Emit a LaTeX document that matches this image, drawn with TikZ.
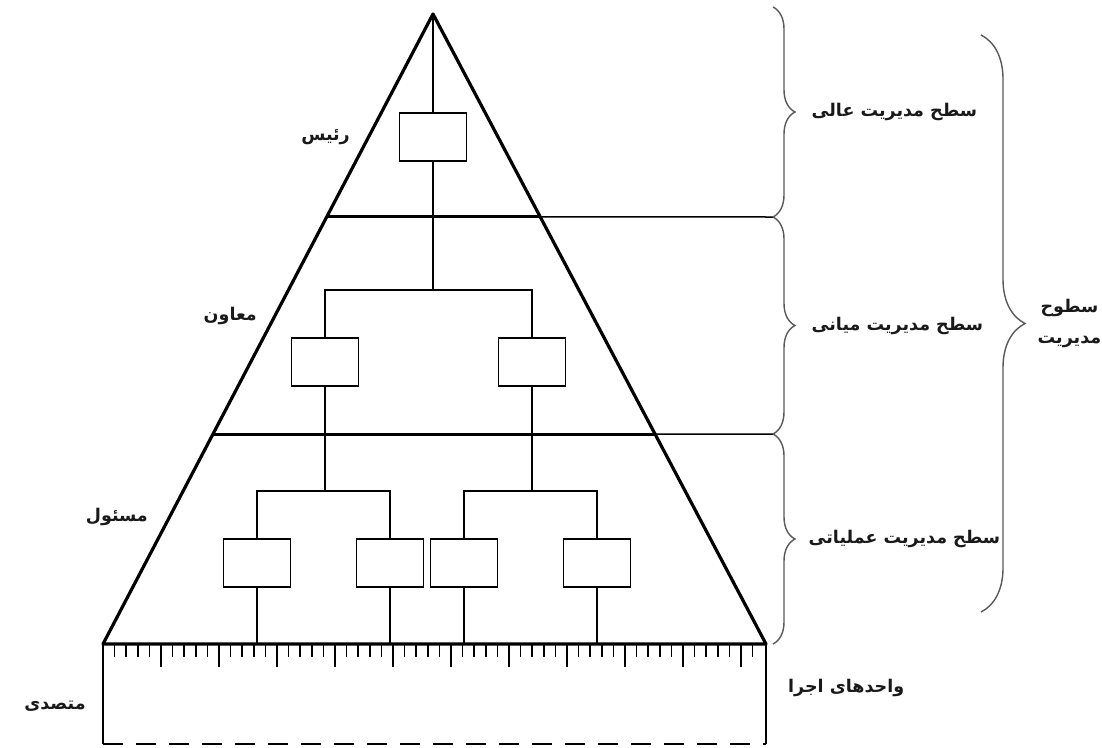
\documentclass[tikz,border=0pt]{standalone}
\usepackage{fontspec}
\newfontfamily\farsi[Script=Arabic]{DejaVu Sans}
\TeXXeTstate=1
\usetikzlibrary{positioning,calc,decorations.pathreplacing}
\newcommand\fa[1]{\beginR #1\endR}
\tikzset{
  zel/.style={line width=3.2pt,line join=round},
  khat/.style={line width=1.5pt},
  kadr/.style={draw,line width=1.7pt,minimum width=67pt,minimum height=48pt,inner sep=0pt},
  tik/.style={line width=1.5pt},
  matn/.style={font=\farsi\bfseries\fontsize{17.5}{21}\selectfont,inner sep=0pt,text=black!90},
  abru/.style={decorate,decoration={brace,amplitude=#1},line width=1.4pt,draw=black!65},
}
\begin{document}
\begin{tikzpicture}[x=1pt,y=-1pt]
  \useasboundingbox (0,0) rectangle (1102,747);
  % pyramid and the two level lines
  \coordinate (sar) at (433,14);
  \coordinate (chap) at (103,644);
  \coordinate (rast) at (766,644);
  \draw[zel] (chap) -- (sar) -- (rast) -- cycle;
  \coordinate (d1l) at ($(sar)!0.322!(chap)$);
  \coordinate (d1r) at ($(sar)!0.322!(rast)$);
  \coordinate (d2l) at ($(sar)!0.667!(chap)$);
  \coordinate (d2r) at ($(sar)!0.667!(rast)$);
  \draw[zel] (d1l) -- (d1r);
  \draw[zel] (d2l) -- (d2r);

  % boxes
  \node[kadr] (r) at (433,137) {};
  \node[kadr] (m1) at (325,362) {};
  \node[kadr] (m2) at (532,362) {};
  \node[kadr] (b1) at (257,563) {};
  \node[kadr] (b2) at (390,563) {};
  \node[kadr] (b3) at (464,563) {};
  \node[kadr] (b4) at (597,563) {};

  % chart lines
  \coordinate (j1) at (433,290);
  \coordinate (j2) at (325,491);
  \coordinate (j3) at (532,491);
  \draw[khat] (sar) -- (r.north);
  \draw[khat] (r.south) -- (j1) -| (m1.north);
  \draw[khat] (j1) -| (m2.north);
  \draw[khat] (m1.south) -- (j2) -| (b1.north);
  \draw[khat] (j2) -| (b2.north);
  \draw[khat] (m2.south) -- (j3) -| (b3.north);
  \draw[khat] (j3) -| (b4.north);
  \foreach \b in {b1,b2,b3,b4}
    \draw[khat] (\b.south) -- (\b.south |- chap);

  % ruler under the base
  \draw[khat] (chap) -- (103,744);
  \draw[khat] (rast) -- (766,744);
  \draw[khat,dash pattern=on 20pt off 13pt] (103,744) -- (766,744);
  \foreach \i in {1,...,56}{
    \pgfmathsetmacro\tul{ifthenelse(mod(\i,5)==0,23,13)}
    \draw[tik] ($(chap)+(11.6*\i,0)$) -- ++(0,\tul);
  }

  % braces on the right
  \coordinate (g0) at (773,7);
  \coordinate (g1) at (773,217);
  \coordinate (g2) at (773,434);
  \coordinate (g3) at (773,644);
  \draw[khat] (d1r) -- (g1);
  \draw[khat] (d2r) -- (g2);
  \draw[abru=22pt] (g0) -- node[matn,right=38pt] (t1) {\fa{سطح مدیریت عالی}} (g1);
  \draw[abru=22pt] (g1) -- node[matn,right=38pt] (t2) {\fa{سطح مدیریت میانی}} (g2);
  \draw[abru=22pt] (g2) -- node[matn,right=35pt] (t3) {\fa{سطح مدیریت عملیاتی}} (g3);
  \draw[abru=44pt] (981,35) -- node[matn,right=56pt,align=center] (t4)
    {\fa{سطوح}\\[10pt]\fa{مدیریت}} (981,612);

  % labels at the left
  \node[matn,anchor=east] (l1) at (350,137) {\fa{رئیس}};
  \node[matn,anchor=east] (l2) at (257,316) {\fa{معاون}};
  \node[matn,anchor=east] (l3) at (148,517) {\fa{مسئول}};
  \node[matn] (l4) at (55,706) {\fa{متصدی}};
  \node[matn,anchor=west] (l5) at (788,688) {\fa{واحدهای اجرا}};
\end{tikzpicture}
\end{document}
